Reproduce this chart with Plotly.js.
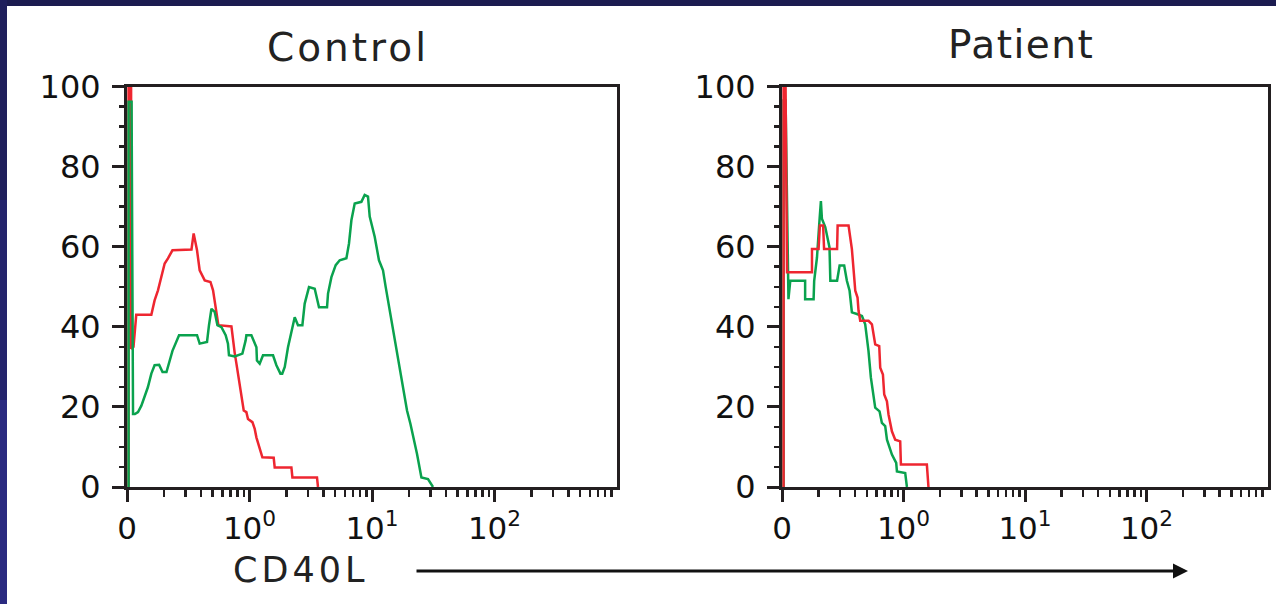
<!DOCTYPE html>
<html>
<head>
<meta charset="utf-8">
<script src="https://cdn.plot.ly/plotly-3.0.1.min.js"></script>
<style>
  html, body { margin: 0; padding: 0; background: #ffffff; }
  #chart { width: 1276px; height: 604px; }
</style>
</head>
<body>
<div id="chart"></div>
<script>
// ---- Data (x = fluorescence, log scale; "0" tick = 0.1) ----
const ctrlRedX = [0.103, 0.103, 0.108, 0.108, 0.113, 0.119, 0.158, 0.168, 0.179, 0.191, 0.203, 0.216, 0.235, 0.336, 0.350, 0.373, 0.392, 0.431, 0.480, 0.504, 0.520, 0.537, 0.557, 0.712, 0.733, 0.757, 0.782, 0.806, 0.832, 0.875, 0.897, 0.943, 0.972, 1.056, 1.103, 1.138, 1.211, 1.274, 1.576, 1.606, 2.198, 2.240, 3.556, 3.624];
const ctrlRedY = [0, 100, 100, 34.5, 35, 43.0, 43.0, 46.6, 49.1, 52.5, 55.8, 57.1, 59.1, 59.3, 63.3, 59.1, 54.1, 51.6, 51.2, 49.1, 46.6, 44.1, 40.4, 40.1, 36.6, 33.5, 30.8, 28.3, 25.8, 21.6, 19.1, 18.7, 17.0, 16.2, 14.5, 12.4, 9.9, 7.4, 7.3, 4.9, 4.9, 2.4, 2.4, 0];

const ctrlGreenX = [0.103, 0.103, 0.109, 0.112, 0.116, 0.123, 0.131, 0.139, 0.148, 0.158, 0.168, 0.183, 0.195, 0.210, 0.220, 0.235, 0.266, 0.373, 0.392, 0.450, 0.467, 0.489, 0.520, 0.547, 0.590, 0.639, 0.667, 0.680, 0.757, 0.875, 0.930, 0.943, 1.036, 1.139, 1.150, 1.211, 1.289, 1.556, 1.658, 1.788, 1.85, 1.94, 2.062, 2.198, 2.339, 2.488, 2.702, 2.822, 3.060, 3.407, 3.693, 4.294, 4.375, 4.663, 5.054, 5.449, 6.180, 6.489, 6.789, 7.226, 8.192, 8.717, 9.276, 9.578, 10.52, 11.40, 12.30, 12.94, 13.95, 14.84, 15.82, 17.05, 18.15, 19.31, 20.58, 21.89, 23.29, 25.31, 28.65, 31.48];
const ctrlGreenY = [0, 96.2, 96.2, 18.2, 18.2, 18.7, 20.3, 22.8, 24.9, 28.3, 30.4, 30.5, 28.7, 28.7, 30.8, 34.0, 37.9, 37.9, 35.8, 36.2, 40.4, 44.5, 43.7, 40.4, 39.9, 37.9, 35.8, 32.9, 32.6, 33.3, 36.6, 37.9, 37.9, 34.9, 31.6, 30.8, 32.9, 32.9, 30.4, 28.3, 28.3, 30.0, 34.9, 39.1, 42.4, 40.4, 40.4, 45.8, 49.9, 49.5, 44.9, 44.9, 48.3, 52.4, 55.4, 56.6, 57.1, 60.8, 66.6, 70.8, 71.2, 72.9, 72.5, 67.5, 62.5, 56.6, 54.1, 49.9, 44.1, 39.1, 34.1, 29.1, 24.1, 19.1, 15.8, 12.4, 8.3, 2.4, 2.0, 0];

const patRedX = [0.103, 0.103, 0.107, 0.110, 0.1765, 0.1765, 0.200, 0.205, 0.218, 0.222, 0.284, 0.287, 0.353, 0.376, 0.393, 0.401, 0.4185, 0.4265, 0.4405, 0.5154, 0.5496, 0.5851, 0.6313, 0.6433, 0.6771, 0.694, 0.7305, 0.7529, 0.8028, 0.8546, 0.9395, 0.952, 1.557, 1.605];
const patRedY = [0, 100, 100, 53.6, 53.6, 59.4, 59.4, 65.3, 65.3, 59.4, 59.4, 65.3, 65.3, 59.4, 52.3, 49.0, 47.3, 44.0, 41.5, 41.5, 40.6, 35.6, 35.2, 29.8, 28.1, 23.1, 21.4, 18.1, 13.9, 11.8, 11.4, 5.6, 5.6, 0];

const patGreenX = [0.103, 0.103, 0.107, 0.113, 0.117, 0.155, 0.155, 0.182, 0.184, 0.194, 0.204, 0.209, 0.213, 0.227, 0.246, 0.250, 0.284, 0.298, 0.325, 0.342, 0.360, 0.376, 0.414, 0.455, 0.484, 0.515, 0.539, 0.585, 0.635, 0.664, 0.707, 0.731, 0.803, 0.871, 0.883, 1.033, 1.067];
const patGreenY = [0, 96.5, 96.5, 46.9, 51.5, 51.5, 46.9, 46.9, 51.5, 57.3, 67.0, 71.4, 67.0, 64.9, 59.8, 51.5, 51.5, 55.3, 55.3, 51.5, 49.0, 43.6, 43.2, 42.7, 40.6, 34.0, 27.3, 19.8, 18.9, 16.0, 15.2, 11.8, 8.1, 6.0, 3.9, 3.5, 0];

const panelTitles = ['Control', 'Patient'];
const xTickVals = [0.1, 1, 10, 100];
const xTickText = ['0', '10<sup>0</sup>', '10<sup>1</sup>', '10<sup>2</sup>'];
const yTickVals = [0, 20, 40, 60, 80, 100];
const xAxisLabel = 'CD40L';

// ---- Styling ----
const RED = '#ee2630';
const GREEN = '#0aa24e';
const INK = '#231f20';
const FONT = 'DejaVu Sans, Liberation Sans, Arial, sans-serif';
const W = 1276, H = 604;

const minorX = [];
[0.1, 1, 10, 100].forEach(d => { for (let k = 2; k <= 9; k++) minorX.push(+(d * k).toPrecision(3)); });

function px(v) { return v / W; }
function py(v) { return (H - v) / H; }
function spaced(t, s) { return '<span style="letter-spacing:' + s + 'px">' + t + '</span>'; }

function xAxis(domain) {
  return {
    domain: domain, type: 'log', range: [-1, 3], fixedrange: true,
    tickmode: 'array', tickvals: xTickVals, ticktext: xTickText,
    ticks: 'outside', ticklen: 12, tickwidth: 3, tickcolor: INK,
    showline: true, mirror: true, linewidth: 3, linecolor: INK,
    showgrid: false, zeroline: false,
    tickfont: { family: FONT, size: 31, color: '#111' },
    ticklabelstandoff: 0,
    minor: { tickmode: 'array', tickvals: minorX, ticks: 'outside', ticklen: 7, tickwidth: 2.5, tickcolor: INK, showgrid: false }
  };
}
function yAxis(anchor) {
  return {
    domain: [py(487), py(86.5)], range: [0, 100], anchor: anchor, fixedrange: true,
    tickmode: 'array', tickvals: yTickVals,
    ticks: 'outside', ticklen: 12, tickwidth: 3, tickcolor: INK,
    showline: true, mirror: true, linewidth: 3, linecolor: INK,
    showgrid: false, zeroline: false,
    tickfont: { family: FONT, size: 32, color: '#111' },
    ticklabelstandoff: 5,
    minor: { dtick: 5, ticks: 'outside', ticklen: 5, tickwidth: 2.5, tickcolor: INK, showgrid: false }
  };
}

const lineStyle = c => ({ color: c, width: 2.5, shape: 'linear' });
const traces = [
  { x: ctrlRedX, y: ctrlRedY, xaxis: 'x', yaxis: 'y', mode: 'lines', line: lineStyle(RED), hoverinfo: 'skip' },
  { x: ctrlGreenX, y: ctrlGreenY, xaxis: 'x', yaxis: 'y', mode: 'lines', line: lineStyle(GREEN), hoverinfo: 'skip' },
  { x: patGreenX, y: patGreenY, xaxis: 'x2', yaxis: 'y2', mode: 'lines', line: lineStyle(GREEN), hoverinfo: 'skip' },
  { x: patRedX, y: patRedY, xaxis: 'x2', yaxis: 'y2', mode: 'lines', line: lineStyle(RED), hoverinfo: 'skip' }
];

const layout = {
  width: W, height: H,
  margin: { l: 0, r: 0, t: 0, b: 0, pad: 0 },
  paper_bgcolor: '#ffffff', plot_bgcolor: 'rgba(0,0,0,0)',
  showlegend: false,
  xaxis: Object.assign(xAxis([px(127), px(617)]), { anchor: 'y' }),
  yaxis: yAxis('x'),
  xaxis2: Object.assign(xAxis([px(782), px(1268)]), { anchor: 'y2' }),
  yaxis2: yAxis('x2'),
  shapes: [
    { type: 'rect', xref: 'paper', yref: 'paper', x0: 0, x1: 1, y0: py(6), y1: 1, fillcolor: '#1c1c50', line: { width: 0 }, layer: 'above' },
    { type: 'rect', xref: 'paper', yref: 'paper', x0: 0, x1: px(7), y0: py(200), y1: 1, fillcolor: '#1f1f5c', line: { width: 0 }, layer: 'above' },
    { type: 'rect', xref: 'paper', yref: 'paper', x0: 0, x1: px(7), y0: py(400), y1: py(200), fillcolor: '#24246c', line: { width: 0 }, layer: 'above' },
    { type: 'rect', xref: 'paper', yref: 'paper', x0: 0, x1: px(7), y0: 0, y1: py(400), fillcolor: '#2a2a80', line: { width: 0 }, layer: 'above' }
  ],
  annotations: [
    { text: spaced(panelTitles[0], 3), xref: 'paper', yref: 'paper', x: px(348), y: py(47), xanchor: 'center', yanchor: 'middle', showarrow: false, font: { family: FONT, size: 39, color: '#222' } },
    { text: spaced(panelTitles[1], 1.5), xref: 'paper', yref: 'paper', x: px(1021), y: py(45), xanchor: 'center', yanchor: 'middle', showarrow: false, font: { family: FONT, size: 39, color: '#222' } },
    { text: spaced(xAxisLabel, 4), xref: 'paper', yref: 'paper', x: px(300), y: py(570), xanchor: 'center', yanchor: 'middle', showarrow: false, font: { family: FONT, size: 35, color: '#222' } },
    { text: '', xref: 'paper', yref: 'paper', x: px(1188), y: py(571), ax: -773, ay: 0, showarrow: true, arrowhead: 2, arrowsize: 1, arrowwidth: 3, arrowcolor: '#111', standoff: 0 }
  ]
};

Plotly.newPlot('chart', traces, layout, { staticPlot: true, displayModeBar: false });
</script>
</body>
</html>
